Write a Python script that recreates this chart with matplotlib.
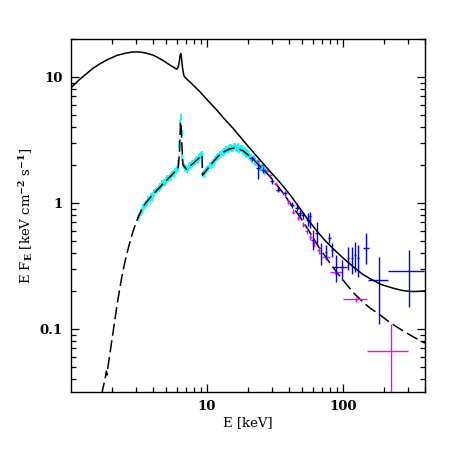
import numpy as np
import matplotlib
matplotlib.use('Agg')
from matplotlib import pyplot as plt
from matplotlib.ticker import FixedLocator, FixedFormatter, NullFormatter

# upper model (solid)
solid_e = [1.0, 1.15, 1.3, 1.45, 1.63, 1.85, 2.17, 2.5, 2.8, 3.04, 3.3, 3.6, 4.0, 4.27,
           4.7, 5.35, 5.7, 5.98, 6.15, 6.25, 6.35, 6.42, 6.5, 6.6, 6.75, 6.89, 7.5, 8.89,
           10.0, 11.8, 13.6, 15.5, 17.5, 20.0, 27.5, 34.4, 41.0, 48.3, 56.0, 64.0, 74.0,
           85.0, 100.0, 119.0, 140.0, 158.0, 190.0, 234.0, 270.0, 310.0, 350.0, 400.0]
solid_f = [8.2, 9.5, 10.6, 11.7, 12.7, 13.7, 14.8, 15.4, 15.75, 15.8, 15.7, 15.4, 14.9,
           14.4, 13.6, 12.4, 11.9, 11.5, 12.0, 13.2, 15.0, 15.3, 14.0, 11.8, 10.3, 9.9,
           9.1, 7.6, 6.6, 5.45, 4.56, 3.92, 3.35, 2.82, 1.90, 1.45, 1.15, 0.90, 0.72,
           0.60, 0.50, 0.43, 0.365, 0.31, 0.27, 0.25, 0.225, 0.21, 0.202, 0.198, 0.198,
           0.20]

# lower model (dashed)
dash_e = [1.68, 1.72, 1.78, 1.82, 1.84, 1.87, 1.95, 2.05, 2.15, 2.25, 2.35, 2.43, 2.55,
          2.7, 2.85, 3.04, 3.25, 3.5, 4.0, 4.5, 5.0, 5.5, 5.9, 6.15, 6.28, 6.38, 6.44,
          6.52, 6.65, 7.05, 8.0, 9.2, 9.25, 10.0, 11.1, 12.0, 13.2, 14.5, 15.6, 17.0,
          18.5, 20.0, 21.9, 24.0, 26.7, 30.0, 36.0, 42.0, 48.0, 55.0, 65.0, 76.0, 90.0,
          105.0, 120.0, 140.0, 158.0, 185.0, 210.0, 240.0, 277.0, 330.0, 400.0]
dash_f = [0.030, 0.034, 0.040, 0.046, 0.043, 0.050, 0.068, 0.098, 0.14, 0.19, 0.25, 0.30,
          0.38, 0.48, 0.59, 0.72, 0.85, 0.98, 1.17, 1.33, 1.50, 1.66, 1.80, 1.92, 2.6,
          4.3, 4.4, 3.0, 2.0, 1.85, 2.08, 2.40, 1.66, 1.84, 2.12, 2.33, 2.53, 2.67, 2.72,
          2.69, 2.58, 2.40, 2.22, 2.00, 1.78, 1.55, 1.21, 0.95, 0.78, 0.62, 0.46, 0.36,
          0.28, 0.228, 0.192, 0.163, 0.146, 0.13, 0.117, 0.106, 0.096, 0.086, 0.077]

# cyan spectrum
cyan_e = [3.10, 3.18, 3.25, 3.33, 3.40, 3.48, 3.55, 3.62, 3.70, 3.78, 3.85, 3.92, 4.00,
          4.10, 4.20, 4.30, 4.40, 4.50, 4.60, 4.70, 4.80, 4.90, 5.00, 5.10, 5.20, 5.30,
          5.40, 5.50, 5.60, 5.70, 5.80, 5.90, 6.00, 6.08, 6.15, 6.25, 6.35, 6.42, 6.50,
          6.60, 6.75, 6.85, 6.95, 7.10, 7.20, 7.35, 7.50, 7.65, 7.80, 7.95, 8.10, 8.25,
          8.40, 8.55, 8.70, 8.85, 9.00, 9.10, 9.20, 9.35, 9.50, 9.60, 9.80, 10.0, 10.2,
          10.5, 10.8, 11.0, 11.2, 11.5, 11.8, 12.0, 12.3, 12.5, 12.8, 13.0, 13.3, 13.5,
          13.8, 14.0, 14.3, 14.5, 14.8, 15.0, 15.3, 15.5, 15.8, 16.0, 16.3, 16.5, 16.8,
          17.0, 17.3, 17.5, 17.8, 18.0, 18.3, 18.5, 18.8, 19.0, 19.3, 19.5, 19.8, 20.0,
          20.5, 21.0, 21.5, 22.0, 22.5, 23.0, 23.5, 24.0, 24.5, 25.0, 25.5, 26.0, 26.5]
cyan_f = [0.76, 0.78, 0.84, 0.86, 0.93, 0.95, 0.99, 1.00, 1.06, 1.07, 1.12, 1.10, 1.16,
          1.21, 1.24, 1.27, 1.30, 1.35, 1.36, 1.42, 1.45, 1.44, 1.50, 1.56, 1.58, 1.60,
          1.64, 1.70, 1.70, 1.72, 1.79, 1.80, 1.86, 1.90, 2.05, 2.9, 4.3, 4.8, 3.6,
          2.3, 1.97, 1.90, 1.88, 1.85, 1.90, 1.96, 1.98, 2.00, 2.06, 2.08, 2.12, 2.20,
          2.22, 2.22, 2.30, 2.36, 2.37, 2.36, 2.45, 1.70, 1.72, 1.76, 1.82, 1.86, 1.90,
          1.98, 2.02, 2.12, 2.10, 2.22, 2.30, 2.35, 2.36, 2.42, 2.50, 2.52, 2.55, 2.58,
          2.66, 2.66, 2.64, 2.70, 2.76, 2.78, 2.70, 2.74, 2.84, 2.80, 2.70, 2.72, 2.82,
          2.76, 2.64, 2.68, 2.74, 2.70, 2.55, 2.58, 2.62, 2.56, 2.42, 2.46, 2.52, 2.50,
          2.36, 2.30, 2.20, 2.27, 2.14, 2.08, 2.10, 2.05, 1.92, 1.90, 1.92, 1.86, 1.78]

# blue points: energy, energy range, flux, flux range
blue_e = [21.3, 23.8, 25.9, 29.9, 33.4, 37.5, 42.0, 45.7, 48.3, 50.5, 54.8, 57.2, 59.8,
          64.0, 68.9, 75.0, 79.4, 83.0, 88.0, 98.5, 109.0, 116.0, 122.5, 128.6, 146.5,
          184.6, 307.0]
blue_elo = [20.5, 22.9, 24.9, 28.8, 32.2, 36.2, 40.6, 44.2, 46.8, 49.0, 53.4, 55.9, 58.5,
            62.6, 67.4, 73.4, 77.8, 81.4, 84.6, 96.5, 107.0, 114.0, 120.5, 126.5, 139.0,
            153.0, 215.0]
blue_ehi = [22.1, 24.7, 26.9, 31.0, 34.6, 38.8, 43.4, 47.2, 49.8, 52.0, 56.2, 58.5, 61.1,
            65.4, 70.4, 76.6, 81.0, 84.6, 106.0, 100.5, 111.0, 118.0, 124.5, 130.7, 156.0,
            215.0, 395.0]
blue_f = [2.26, 1.89, 1.83, 1.48, 1.27, 1.19, 0.96, 0.91, 0.83, 0.80, 0.733, 0.78, 0.51,
          0.575, 0.40, 0.41, 0.525, 0.42, 0.31, 0.31, 0.364, 0.364, 0.387, 0.364, 0.437,
          0.245, 0.29]
blue_flo = [2.15, 1.55, 1.74, 1.41, 1.21, 1.13, 0.91, 0.86, 0.78, 0.74, 0.65, 0.63, 0.42,
            0.46, 0.32, 0.36, 0.48, 0.375, 0.237, 0.245, 0.295, 0.27, 0.285, 0.26, 0.33,
            0.11, 0.149]
blue_fhi = [2.37, 2.0, 1.92, 1.55, 1.33, 1.25, 1.01, 0.96, 0.88, 0.85, 0.83, 0.85, 0.61,
            0.71, 0.48, 0.46, 0.575, 0.48, 0.387, 0.35, 0.45, 0.45, 0.49, 0.465, 0.575,
            0.375, 0.42]

# magenta points
mag_e = [23.5, 25.9, 27.5, 29.1, 32.0, 36.4, 39.5, 43.1, 47.0, 51.1, 54.0, 57.2, 61.0,
         66.0, 75.0, 87.4, 124.0, 224.0]
mag_elo = [22.8, 25.1, 26.7, 28.3, 31.1, 35.4, 38.4, 42.0, 45.8, 49.8, 52.6, 55.8, 59.5,
           64.4, 70.0, 80.5, 100.0, 150.0]
mag_ehi = [24.2, 26.7, 28.3, 29.9, 32.9, 37.4, 40.6, 44.2, 48.2, 52.4, 55.4, 58.6, 62.5,
           67.6, 80.0, 98.0, 149.0, 300.0]
mag_f = [2.15, 2.0, 1.80, 1.67, 1.42, 1.19, 1.02, 0.853, 0.76, 0.67, 0.60, 0.54, 0.48,
         0.42, 0.37, 0.28, 0.173, 0.067]
mag_flo = [2.10, 1.95, 1.76, 1.63, 1.38, 1.15, 0.98, 0.82, 0.73, 0.64, 0.57, 0.51, 0.45,
           0.39, 0.35, 0.27, 0.163, 0.02]
mag_fhi = [2.20, 2.05, 1.84, 1.71, 1.46, 1.23, 1.06, 0.89, 0.79, 0.70, 0.63, 0.57, 0.51,
           0.45, 0.39, 0.29, 0.18, 0.11]


def errs(v, lo, hi):
    v = np.array(v)
    return [v - np.array(lo), np.array(hi) - v]


plt.rcParams['font.family'] = ['DejaVu Serif']
plt.rcParams['font.weight'] = 'bold'
plt.rcParams['mathtext.fontset'] = 'dejavuserif'
plt.rcParams['mathtext.default'] = 'bf'

fig = plt.figure(figsize=(4.63, 4.63), dpi=100)
ax = fig.add_axes([71 / 463, 1 - 392 / 463, 354 / 463, 353 / 463])

cyan_err = np.array(cyan_f) * 0.06
ax.errorbar(cyan_e, cyan_f, yerr=cyan_err, xerr=np.array(cyan_e) * 0.01,
            fmt='none', ecolor='#00ffff', elinewidth=1.3, zorder=1)

ax.plot(dash_e, dash_f, color='black', lw=1.1, dashes=(8, 3), zorder=2)

ax.errorbar(mag_e, mag_f, xerr=errs(mag_e, mag_elo, mag_ehi),
            yerr=errs(mag_f, mag_flo, mag_fhi),
            fmt='none', ecolor='#ff00ff', elinewidth=1.0, zorder=3)
ax.errorbar(blue_e, blue_f, xerr=errs(blue_e, blue_elo, blue_ehi),
            yerr=errs(blue_f, blue_flo, blue_fhi),
            fmt='none', ecolor='#0000ff', elinewidth=1.0, zorder=4)

ax.plot(solid_e, solid_f, color='black', lw=1.1, zorder=5)

ax.set_xscale('log')
ax.set_yscale('log')
ax.set_xlim(1.0, 400)
ax.set_ylim(0.0315, 20)

ax.xaxis.set_major_locator(FixedLocator([10, 100]))
ax.xaxis.set_major_formatter(FixedFormatter(['10', '100']))
xminor = [m * d for d in [1, 10, 100] for m in range(2, 10)]
ax.xaxis.set_minor_locator(FixedLocator(xminor))
ax.xaxis.set_minor_formatter(NullFormatter())

ax.yaxis.set_major_locator(FixedLocator([0.1, 1, 10]))
ax.yaxis.set_major_formatter(FixedFormatter(['0.1', '1', '10']))
yminor = [m * d for d in [0.01, 0.1, 1, 10] for m in range(2, 10)]
ax.yaxis.set_minor_locator(FixedLocator(yminor))
ax.yaxis.set_minor_formatter(NullFormatter())

ax.tick_params(which='both', direction='in', top=True, right=True, labelsize=9.5,
               width=0.9, pad=6)
ax.tick_params(which='major', length=6)
ax.tick_params(which='minor', length=3.5)
for s in ax.spines.values():
    s.set_linewidth(1.0)

ax.set_xlabel('E [keV]', fontsize=9.5, labelpad=2)
ax.set_ylabel(r'E F$_E$ [keV cm$^{-2}$ s$^{-1}$]', fontsize=9.5, labelpad=3)

fig.savefig('out.png', dpi=100)
